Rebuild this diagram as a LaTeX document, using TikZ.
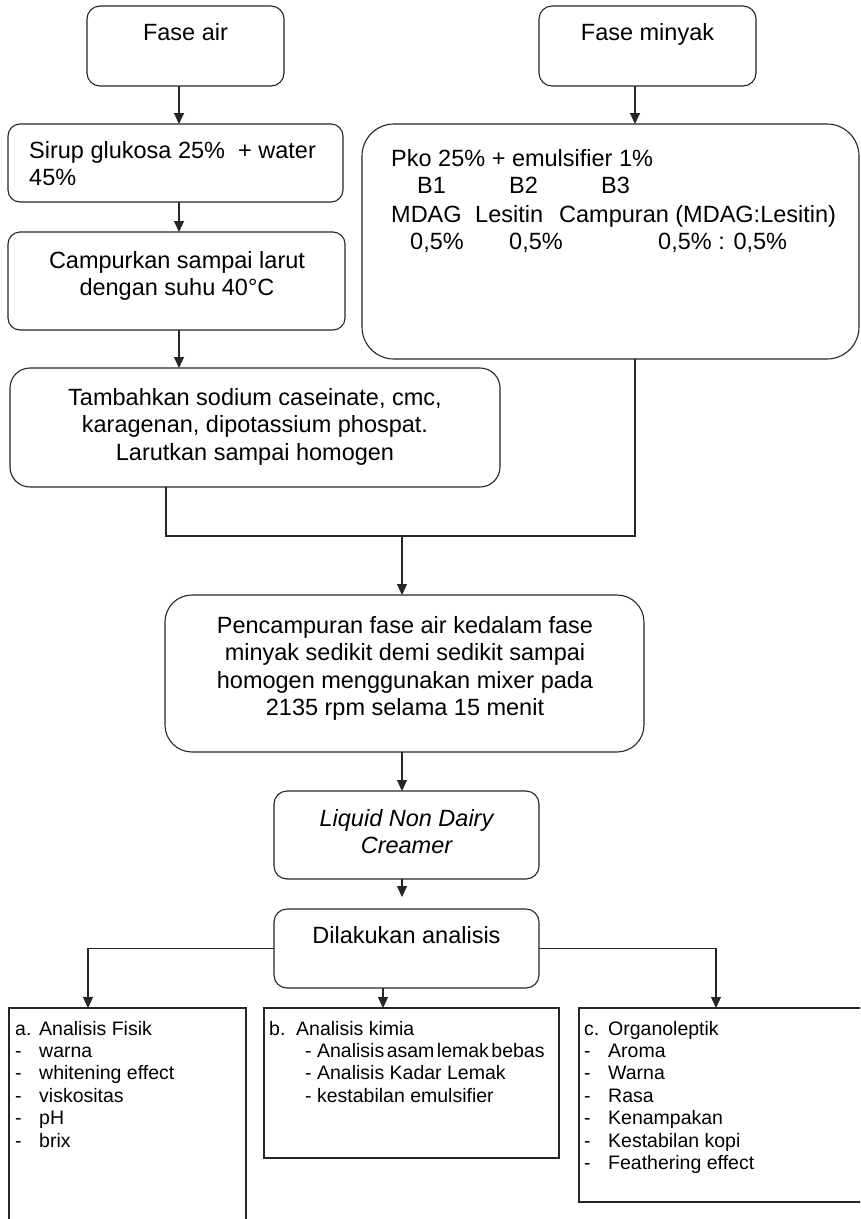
\documentclass[tikz,border=0pt]{standalone}
\usepackage{fontspec}
\setmainfont{Liberation Sans}
\usetikzlibrary{arrows.meta}
\begin{document}
\begin{tikzpicture}[x=1pt,y=-1pt,
  box/.style={draw=black!85, line width=1.1pt, inner sep=0pt, outer sep=0pt},
  arr/.style={draw=black!85, line width=1.1pt, -{Triangle[length=11pt,width=10pt]}},
  ln/.style={draw=black!85, line width=1.1pt},
  big/.style={font=\fontsize{23.5}{27.5}\selectfont, inner sep=0pt},
  small/.style={font=\fontsize{19.5}{22.4}\selectfont, inner sep=0pt}]
\useasboundingbox (0,0) rectangle (860,1219);
\clip (0,0) rectangle (860,1219);
\fill[white] (0,0) rectangle (860,1219);
% boxes
\node[box, rounded corners=13pt, minimum width=197pt, minimum height=80pt] (fa) at (185.5,46) {};
\node[box, rounded corners=13pt, minimum width=217pt, minimum height=80pt] (fm) at (647.5,46) {};
\node[box, rounded corners=12pt, minimum width=335pt, minimum height=78pt] (sir) at (175.5,163) {};
\node[box, rounded corners=12pt, minimum width=337pt, minimum height=98pt] (camp) at (176.5,281) {};
\node[box, rounded corners=20pt, minimum width=490pt, minimum height=119pt] (tamb) at (255,427.5) {};
\node[box, rounded corners=32pt, minimum width=497pt, minimum height=235pt] (pko) at (610.5,241.5) {};
\node[box, rounded corners=27pt, minimum width=479pt, minimum height=157pt] (penc) at (404.5,673.5) {};
\node[box, rounded corners=13pt, minimum width=265pt, minimum height=88pt] (liq) at (406.5,835) {};
\node[box, rounded corners=13pt, minimum width=265pt, minimum height=79pt] (dil) at (406.5,948.5) {};
\node[box, minimum width=237pt, minimum height=232pt] (a) at (127.5,1124) {};
\node[box, minimum width=295pt, minimum height=150pt] (b) at (411.5,1083) {};
\node[box, minimum width=301pt, minimum height=194pt] (c) at (729.5,1105) {};
% texts
\node[big, anchor=base] (tfa) at (185.5,40) {Fase air};
\node[big, anchor=base] (tfm) at (647.5,40) {Fase minyak};
\node[big, anchor=base west] (tsir) at (29,158) {\begin{tabular}[t]{@{}l@{}}Sirup glukosa 25\%~ + water\\45\%\end{tabular}};
\node[big, anchor=base] (tcamp) at (177,268) {\begin{tabular}[t]{@{}c@{}}Campurkan sampai larut\\dengan suhu 40°C\end{tabular}};
\node[big, anchor=base] (ttamb) at (255,405) {\begin{tabular}[t]{@{}c@{}}Tambahkan sodium caseinate, cmc,\\karagenan, dipotassium phospat.\\Larutkan sampai homogen\end{tabular}};
\node[big, anchor=base] (tpenc) at (405,633) {\begin{tabular}[t]{@{}c@{}}Pencampuran fase air kedalam fase\\minyak sedikit demi sedikit sampai\\homogen menggunakan mixer pada\\2135 rpm selama 15 menit\end{tabular}};
\node[big, anchor=base] (tliq) at (406.5,826) {\itshape\begin{tabular}[t]{@{}c@{}}Liquid Non Dairy\\Creamer\end{tabular}};
\node[big, anchor=base] (tdil) at (406.5,943) {Dilakukan analisis};
% Pko box lines
\node[big, anchor=base west] (p1) at (391,166) {Pko 25\% + emulsifier 1\%};
\node[big, anchor=base west] (p2a) at (417,193) {B1};
\node[big, anchor=base west] (p2b) at (509,193) {B2};
\node[big, anchor=base west] (p2c) at (601,193) {B3};
\node[big, anchor=base west] (p3a) at (391,222) {MDAG};
\node[big, anchor=base west] (p3b) at (475,222) {Lesitin};
\node[big, anchor=base west] (p3c) at (559,222) {Campuran (MDAG:Lesitin)};
\node[big, anchor=base west] (p4a) at (410,249) {0,5\%};
\node[big, anchor=base west] (p4b) at (509,249) {0,5\%};
\node[big, anchor=base west] (p4c) at (658,249) {0,5\% : 0,5\%};
% lists
\node[small, anchor=base west] (ta) at (15,1035) {\begin{tabular}[t]{@{}p{24pt}@{}l@{}}a. & Analisis Fisik\\- & warna\\- & whitening effect\\- & viskositas\\- & pH\\- & brix\end{tabular}};
\node[small, anchor=base west] (tb) at (269,1035) {\begin{tabular}[t]{@{}p{27pt}@{}l@{}}b. & Analisis kimia\end{tabular}};
\node[small, anchor=base west] (tbi) at (305,1057.4) {\begin{tabular}[t]{@{}l@{}}- Analisis\hspace{2.5pt}asam\hspace{2.5pt}lemak\hspace{2.5pt}bebas\\- Analisis Kadar Lemak\\- kestabilan emulsifier\end{tabular}};
\node[small, anchor=base west] (tc) at (584,1035) {\begin{tabular}[t]{@{}p{24pt}@{}l@{}}c. & Organoleptik\\- & Aroma\\- & Warna\\- & Rasa\\- & Kenampakan\\- & Kestabilan kopi\\- & Feathering effect\end{tabular}};
% connectors
\coordinate (xL) at (179,0);
\coordinate (xR) at (635,0);
\coordinate (xT) at (166,0);
\coordinate (yJ) at (0,536);
\coordinate (xM) at (402,0);
\coordinate (xA) at (88,0);
\coordinate (xB) at (383,0);
\coordinate (xC) at (716,0);
\draw[arr] (fa.south -| xL) -- (sir.north -| xL);
\draw[arr] (sir.south -| xL) -- (camp.north -| xL);
\draw[arr] (camp.south -| xL) -- (tamb.north -| xL);
\draw[arr] (fm.south -| xR) -- (pko.north -| xR);
\draw[ln] (tamb.south -| xT) |- (xR |- yJ) -- (pko.south -| xR);
\draw[arr] (xM |- yJ) -- (penc.north -| xM);
\draw[arr] (penc.south -| xM) -- (liq.north -| xM);
\draw[arr, shorten >=12pt] (liq.south -| xM) -- (dil.north -| xM);
\draw[arr] (dil.west) -| (a.north -| xA);
\draw[arr] (dil.south -| xB) -- (b.north -| xB);
\draw[arr] (dil.east) -| (c.north -| xC);
\end{tikzpicture}
\end{document}
